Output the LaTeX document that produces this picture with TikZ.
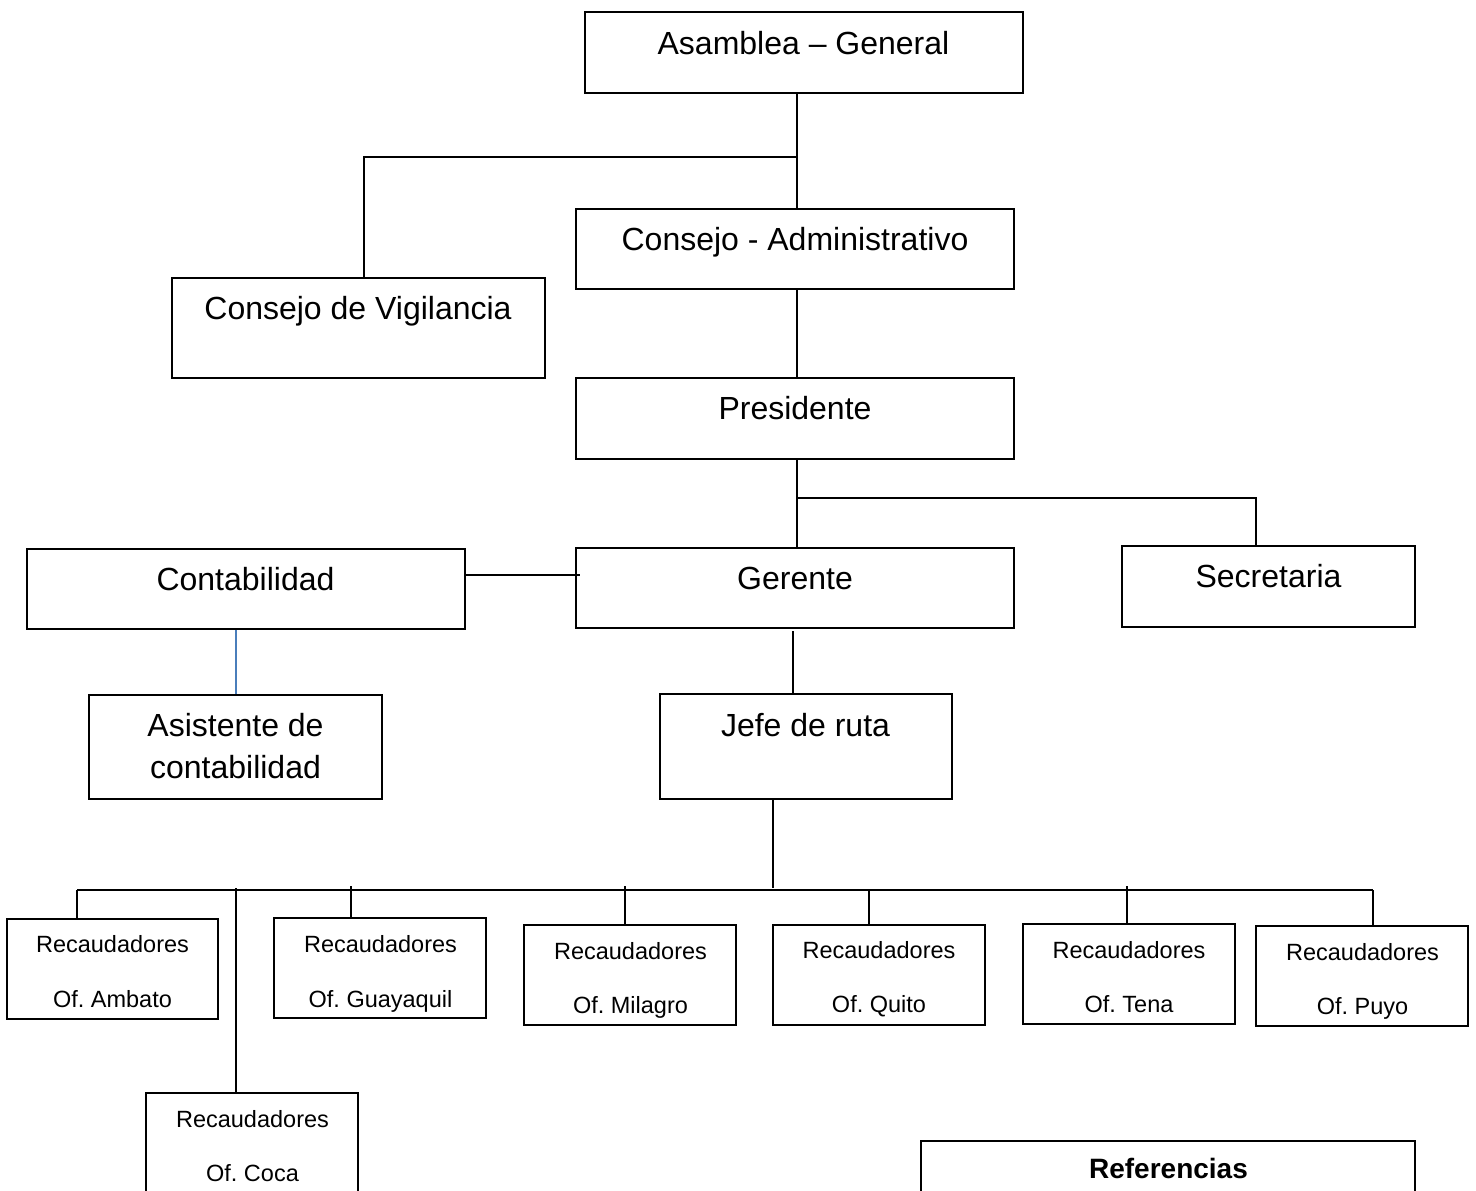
\documentclass[tikz,border=0pt]{standalone}
\usepackage{fontspec}
\setmainfont{Liberation Sans}
\frenchspacing
\definecolor{linkblue}{RGB}{74,126,187}
\begin{document}
\begin{tikzpicture}[x=1pt,y=-1pt,
  box/.style={draw=black, line width=1.8pt, fill=white, inner sep=0pt},
  big/.style={anchor=base, inner sep=0pt, font=\fontsize{32}{42}\selectfont},
  small/.style={anchor=base, inner sep=0pt, font=\fontsize{23.5}{30}\selectfont},
  conn/.style={draw=black, line width=1.8pt},
  blueconn/.style={draw=linkblue, line width=1.8pt}]
\useasboundingbox (0,0) rectangle (1476,1191);
\clip (0,0) rectangle (1476,1191);
\fill[white] (0,0) rectangle (1476,1191);

\coordinate (j1) at (797,157);
\coordinate (j2) at (364,157);
\coordinate (j3) at (797,498);
\coordinate (j4) at (1256,498);

% boxes
\node[box, minimum width=438, minimum height=81] (asam) at (804,52.5) {};
\node[box, minimum width=438, minimum height=80] (cadm) at (795,249) {};
\node[box, minimum width=373, minimum height=100] (vig) at (358.5,328) {};
\node[box, minimum width=438, minimum height=81] (pres) at (795,418.5) {};
\node[box, minimum width=438, minimum height=80] (cont) at (246,589) {};
\node[box, minimum width=438, minimum height=80] (ger) at (795,588) {};
\node[box, minimum width=293, minimum height=81] (sec) at (1268.5,586.5) {};
\node[box, minimum width=293, minimum height=104] (asis) at (235.5,747) {};
\node[box, minimum width=292, minimum height=105] (jefe) at (806,746.5) {};
\node[box, minimum width=211, minimum height=100] (amb) at (112.5,969) {};
\node[box, minimum width=212, minimum height=100] (gua) at (380,968) {};
\node[box, minimum width=212, minimum height=100] (mil) at (630,975) {};
\node[box, minimum width=212, minimum height=100] (qui) at (879,975) {};
\node[box, minimum width=212, minimum height=100] (ten) at (1129,974) {};
\node[box, minimum width=212, minimum height=100] (puy) at (1362,976) {};
\node[box, minimum width=212, minimum height=130] (coc) at (252,1158) {};
\node[box, minimum width=494, minimum height=100] (ref) at (1168,1191) {};

\coordinate (jb) at (773,888);
\coordinate (bl) at (77,890);
\coordinate (br) at (1373,890);
\coordinate (bamb) at (77,890);
\coordinate (bcoc) at (236,888);
\coordinate (bgua) at (351,886);
\coordinate (bmil) at (625,886);
\coordinate (bqui) at (869,890);
\coordinate (bten) at (1127,886);
\coordinate (bpuy) at (1373,890);
\coordinate (cr) at (580,575);
\coordinate (gb) at (793,631);

\draw[conn] (asam.south -| j1) -- (cadm.north -| j1);
\draw[conn] (j1) -- (j2) -- (vig.north -| j2);
\draw[conn] (cadm.south -| j1) -- (pres.north -| j1);
\draw[conn] (pres.south -| j1) -- (ger.north -| j1);
\draw[conn] (j3) -- (j4) -- (sec.north -| j4);
\draw[conn] (cont.east |- cr) -- (cr);
\draw[blueconn] (cont.south -| bcoc) -- (asis.north -| bcoc);
\draw[conn] (gb) -- (jefe.north -| gb);
\draw[conn] (jefe.south -| jb) -- (jb);
\draw[conn] (bl) -- (br);
\draw[conn] (bamb) -- (amb.north -| bamb);
\draw[conn] (bcoc) -- (coc.north -| bcoc);
\draw[conn] (bgua) -- (gua.north -| bgua);
\draw[conn] (bmil) -- (mil.north -| bmil);
\draw[conn] (bqui) -- (qui.north -| bqui);
\draw[conn] (bten) -- (ten.north -| bten);
\draw[conn] (bpuy) -- (puy.north -| bpuy);

% texts
\node[big] (t-asam) at (803.5,54) {Asamblea – General};
\node[big] (t-cadm) at (795,250) {Consejo - Administrativo};
\node[big] (t-vig) at (358,319) {Consejo de Vigilancia};
\node[big] (t-pres) at (795,419) {Presidente};
\node[big] (t-cont) at (245.5,590) {Contabilidad};
\node[big] (t-ger) at (795,589) {Gerente};
\node[big] (t-sec) at (1268.5,587) {Secretaria};
\node[big] (t-asis1) at (235.5,736) {Asistente de};
\node[big] (t-asis2) at (235.5,778) {contabilidad};
\node[big] (t-jefe) at (805.5,736) {Jefe de ruta};

\node[small] (t-amb1) at (112.5,952) {Recaudadores};
\node[small] (t-amb2) at (112.5,1007) {Of. Ambato};
\node[small] (t-gua1) at (380.5,952) {Recaudadores};
\node[small] (t-gua2) at (380.5,1007) {Of. Guayaquil};
\node[small] (t-mil1) at (630.5,959) {Recaudadores};
\node[small] (t-mil2) at (630.5,1013) {Of. Milagro};
\node[small] (t-qui1) at (879,958) {Recaudadores};
\node[small] (t-qui2) at (879,1012) {Of. Quito};
\node[small] (t-ten1) at (1129,958) {Recaudadores};
\node[small] (t-ten2) at (1129,1012) {Of. Tena};
\node[small] (t-puy1) at (1362.5,960) {Recaudadores};
\node[small] (t-puy2) at (1362.5,1014) {Of. Puyo};
\node[small] (t-coc1) at (252.5,1127) {Recaudadores};
\node[small] (t-coc2) at (252.5,1181) {Of. Coca};
\node[anchor=base, inner sep=0pt, font=\fontsize{28}{34}\selectfont\bfseries] (t-ref) at (1168.5,1178) {Referencias};
\end{tikzpicture}
\end{document}
